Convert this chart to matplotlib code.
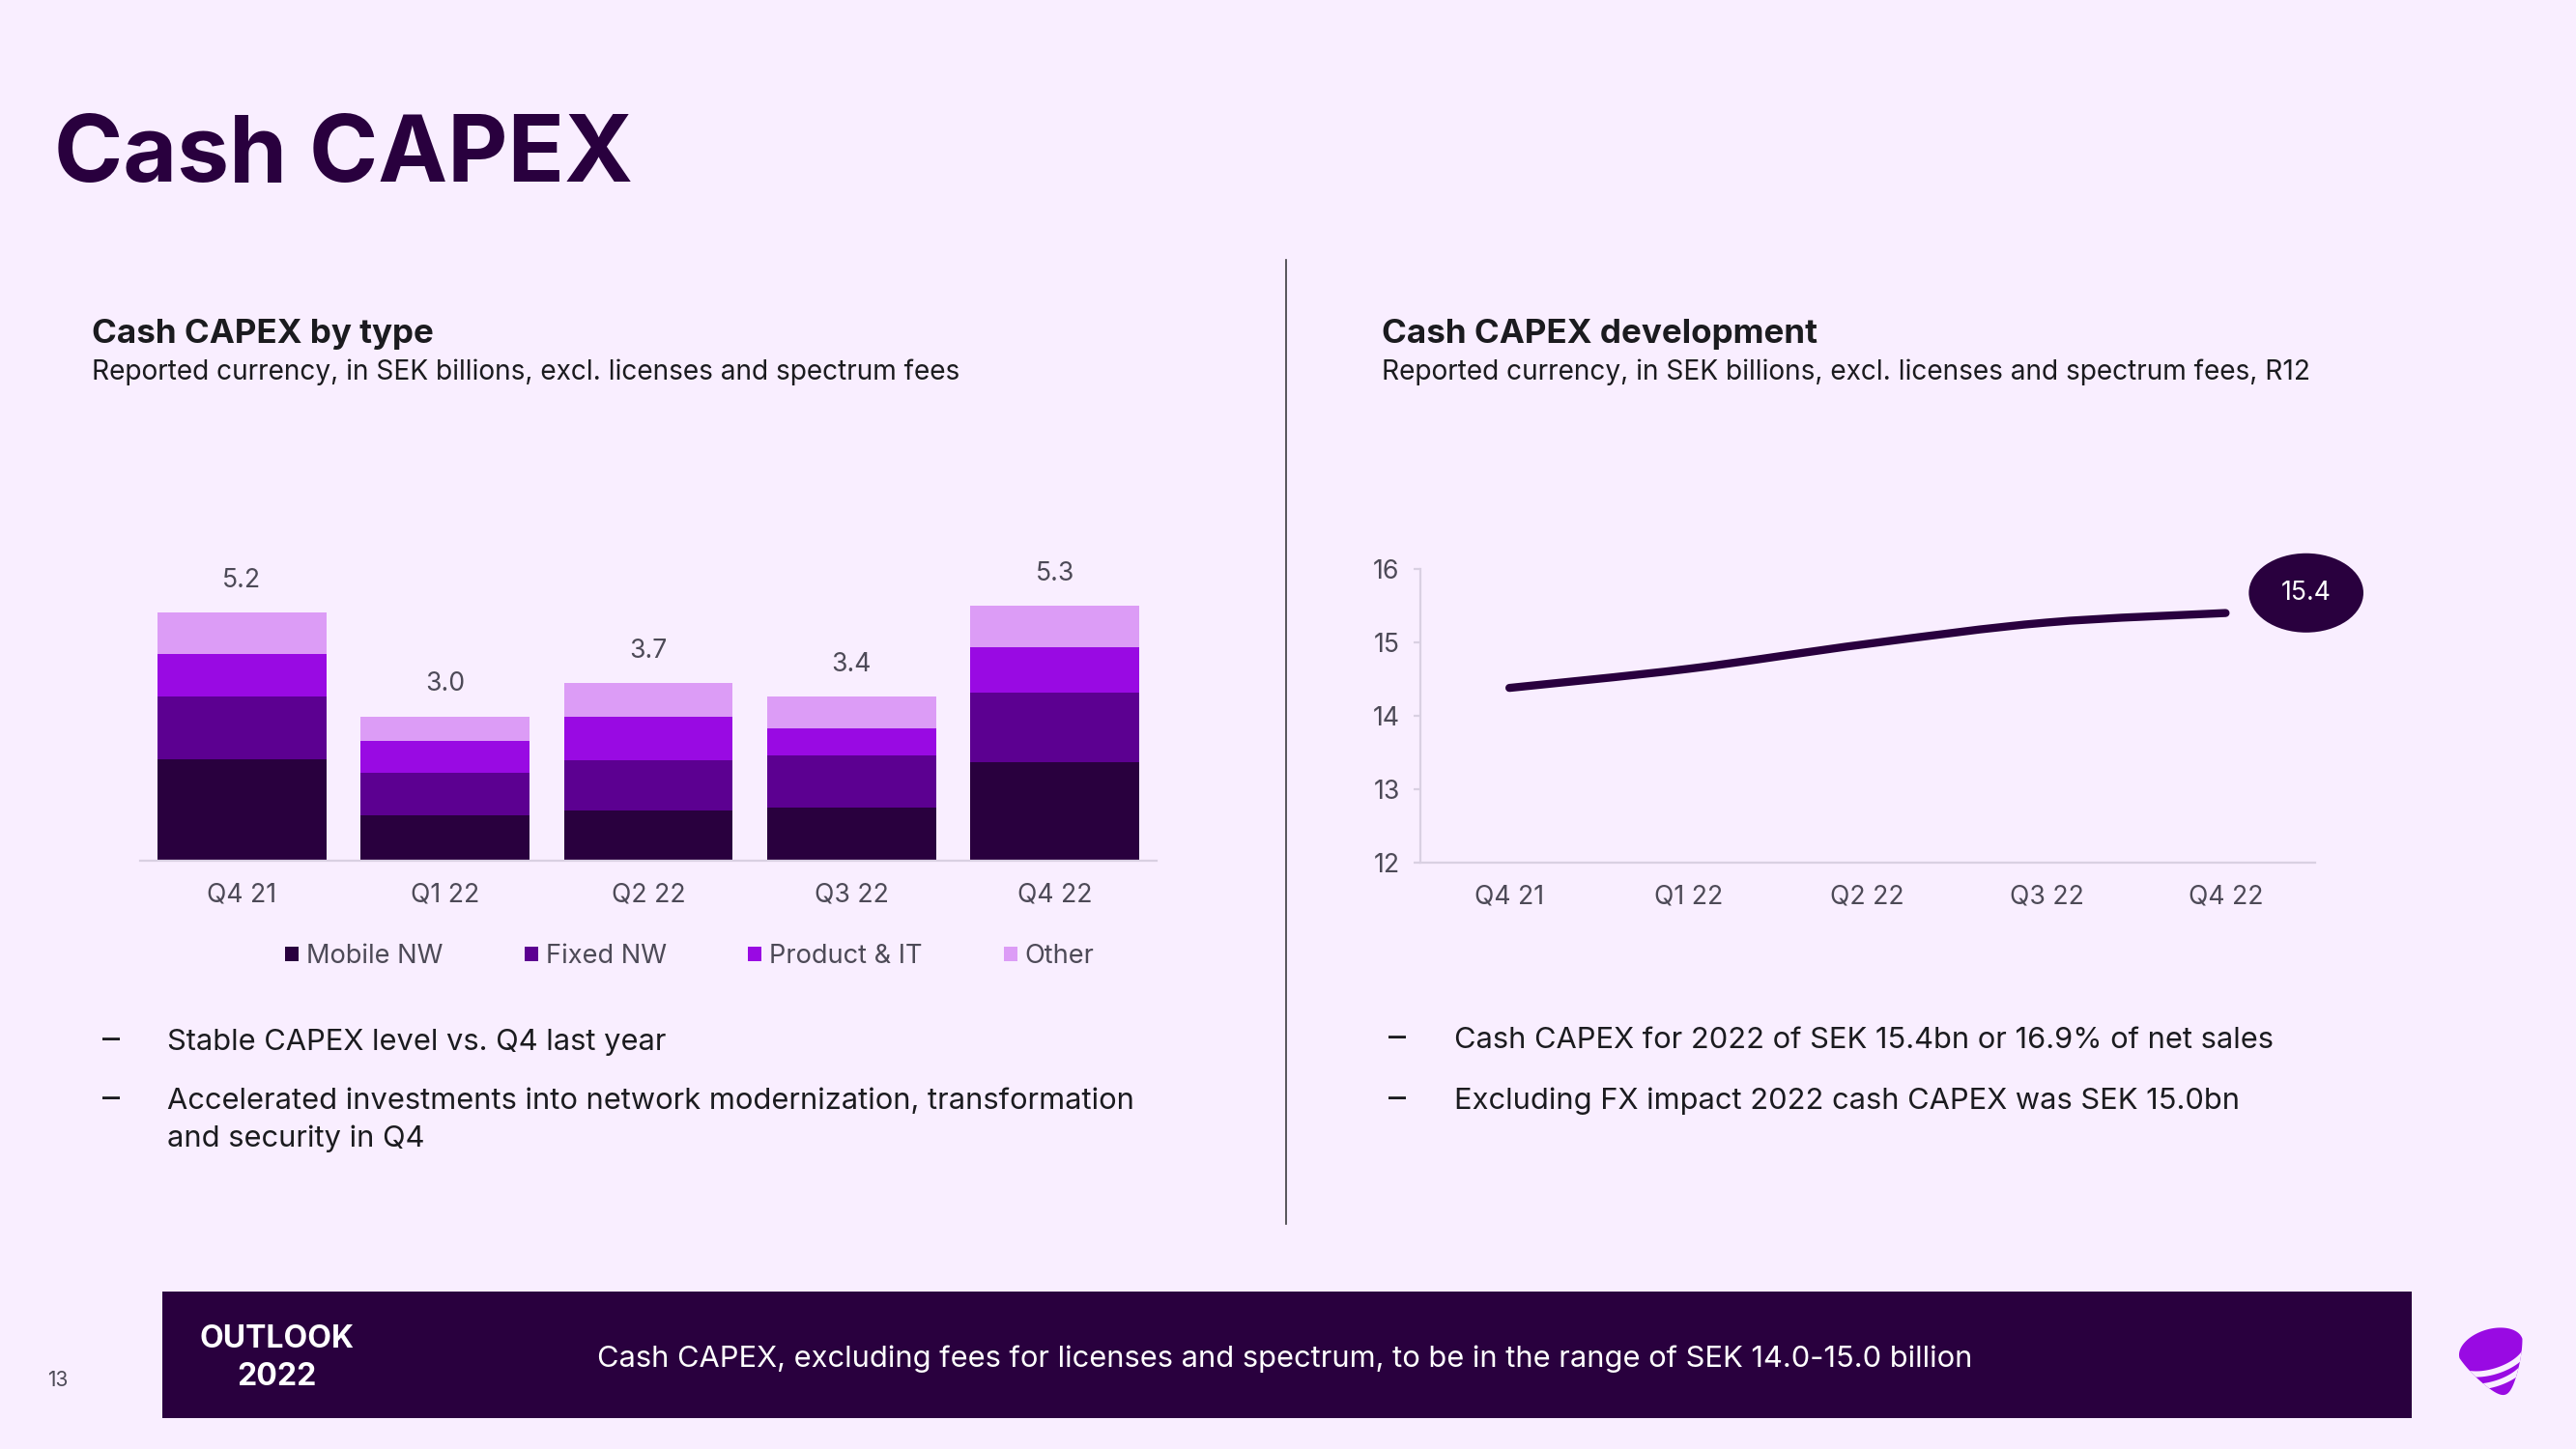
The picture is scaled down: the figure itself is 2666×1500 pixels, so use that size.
import numpy as np
import matplotlib
matplotlib.use("Agg")
import matplotlib.pyplot as plt
from matplotlib.patches import Patch, PathPatch, Rectangle, Polygon
from matplotlib.path import Path

# data
quarters = ["Q4 21", "Q1 22", "Q2 22", "Q3 22", "Q4 22"]
mobile_nw = [2.13, 0.96, 1.05, 1.11, 2.06]
fixed_nw = [1.32, 0.88, 1.05, 1.09, 1.46]
product_it = [0.89, 0.68, 0.93, 0.57, 0.95]
other = [0.86, 0.51, 0.69, 0.67, 0.88]
bar_totals = ["5.2", "3.0", "3.7", "3.4", "5.3"]
series_names = ["Mobile NW", "Fixed NW", "Product & IT", "Other"]

capex_r12 = [14.38, 14.64, 14.98, 15.27, 15.40]
last_label = "15.4"
line_yticks = [12, 13, 14, 15, 16]

BG = "#F9EEFF"
DEEP = "#29003E"
DARK = "#5C0091"
CORE = "#990AE3"
LIGHT = "#DC9CF6"
GREY = "#4d4a57"
AXIS = "#d9d0e2"
INK = "#1b1b1f"

plt.rcParams['font.family'] = ['Inter', 'DejaVu Sans']

W, H = 2666, 1500
fig = plt.figure(figsize=(W / 200, H / 200), dpi=200, facecolor=BG)


def rect(x0, y0, x1, y1):
    return [x0 / W, 1 - y1 / H, (x1 - x0) / W, (y1 - y0) / H]


# background canvas in pixel coords for the slide furniture
bg = fig.add_axes([0, 0, 1, 1], zorder=0)
bg.set_xlim(0, W)
bg.set_ylim(H, 0)
bg.axis("off")
bg.set_facecolor(BG)

bg.text(56, 188, "Cash CAPEX", fontsize=34.7, fontweight="bold", color=DEEP, va="baseline")

bg.text(95, 355, "Cash CAPEX by type", fontsize=12.6, fontweight="bold", color=INK, va="baseline")
bg.text(95, 393, "Reported currency, in SEK billions, excl. licenses and spectrum fees",
        fontsize=10.1, color=INK, va="baseline")
bg.text(1430, 355, "Cash CAPEX development", fontsize=12.6, fontweight="bold", color=INK, va="baseline")
bg.text(1430, 393, "Reported currency, in SEK billions, excl. licenses and spectrum fees, R12",
        fontsize=10.1, color=INK, va="baseline")

bg.plot([1331, 1331], [269, 1267], color="#3c3c40", lw=0.6)

bullets_left = [(1087, "Stable CAPEX level vs. Q4 last year", True),
                (1148, "Accelerated investments into network modernization, transformation", True),
                (1187, "and security in Q4", False)]
for yb, txt, dash in bullets_left:
    if dash:
        bg.text(106, yb, "\u2013", fontsize=13, color=INK, va="baseline")
    bg.text(173, yb, txt, fontsize=11.1, color=INK, va="baseline")

bullets_right = [(1085, "Cash CAPEX for 2022 of SEK 15.4bn or 16.9% of net sales"),
                 (1148, "Excluding FX impact 2022 cash CAPEX was SEK 15.0bn")]
for yb, txt in bullets_right:
    bg.text(1437, yb, "\u2013", fontsize=13, color=INK, va="baseline")
    bg.text(1505, yb, txt, fontsize=11.1, color=INK, va="baseline")

# outlook banner
bg.add_patch(Rectangle((168, 1337), 2496 - 168, 1468 - 1337, facecolor=DEEP, edgecolor="none"))
bg.text(286, 1395, "OUTLOOK", fontsize=11.5, fontweight="bold", color="white", ha="center", va="baseline")
bg.text(286, 1434, "2022", fontsize=11.5, fontweight="bold", color="white", ha="center", va="baseline")
bg.text(618, 1415, "Cash CAPEX, excluding fees for licenses and spectrum, to be in the range of SEK 14.0-15.0 billion",
        fontsize=11.1, color="white", va="baseline")
bg.text(60, 1435, "13", fontsize=7.5, color=GREY, va="baseline", ha="center")

# logo (rough pebble with two stripes)
a = -0.3
ca, sa = np.cos(a), np.sin(a)
cx, cy = 2578, 1396
t = np.linspace(np.pi, 2 * np.pi, 60)
ex, ey = 34 * np.cos(t), 20 * np.sin(t)
t2 = np.linspace(0, np.pi, 60)
lx = 34 * np.cos(t2) * (1 - 0.45 * np.sin(t2))
ly = 50 * np.sin(t2)
px = np.concatenate([ex, lx])
py = np.concatenate([ey, ly])
shape = np.column_stack([cx + px * ca - py * sa, cy + px * sa + py * ca])
pebble = Polygon(shape, closed=True, facecolor=CORE, edgecolor="none")
bg.add_patch(pebble)
for off in (6, 19):
    sx = 38 * np.cos(t2)
    sy = 18 * np.sin(t2)
    xs = cx + sx * ca - sy * sa
    ys = cy + off + sx * sa + sy * ca
    ln, = bg.plot(xs, ys, color=BG, lw=2.2, solid_capstyle="butt")
    ln.set_clip_path(pebble)

# stacked bar chart
ax1 = fig.add_axes(rect(145, 595, 1197, 891), zorder=1)
ax1.set_facecolor("none")
x = np.arange(len(quarters))
bottom = np.zeros(len(quarters))
for vals, col, name in zip([mobile_nw, fixed_nw, product_it, other],
                           [DEEP, DARK, CORE, LIGHT], series_names):
    ax1.bar(x, vals, 0.83, bottom=bottom, color=col, label=name, linewidth=0)
    bottom += np.array(vals)
for i, lbl in enumerate(bar_totals):
    ax1.annotate(lbl, (x[i], bottom[i]), xytext=(0, 12), textcoords="offset points",
                 ha="center", va="center", fontsize=9.6, color=GREY)
ax1.set_xlim(-0.5, len(quarters) - 0.5)
ax1.set_ylim(0, 6)
ax1.set_xticks(x)
ax1.set_xticklabels(quarters)
ax1.set_yticks([])
ax1.tick_params(axis="x", length=0, pad=8, labelsize=9.6, labelcolor=GREY)
for s in ["top", "right", "left"]:
    ax1.spines[s].set_visible(False)
ax1.spines["bottom"].set_color(AXIS)
ax1.spines["bottom"].set_linewidth(0.8)

handles = [Patch(facecolor=c, edgecolor="none", label=n)
           for c, n in zip([DEEP, DARK, CORE, LIGHT], series_names)]
fig.legend(handles=handles, ncol=4, loc="center", frameon=False,
           bbox_to_anchor=(714 / W, 1 - 990 / H), bbox_transform=fig.transFigure,
           handlelength=0.5, handleheight=0.5, handletextpad=0.3, columnspacing=3.1,
           fontsize=9.8, labelcolor=GREY)

# R12 line chart
ax2 = fig.add_axes(rect(1469.5, 589, 2396, 893), zorder=1)
ax2.set_facecolor("none")
xl = np.arange(len(quarters))
pts = np.column_stack([xl, capex_r12]).astype(float)
# smooth curve through the points (Catmull-Rom as cubic Bezier)
verts = [tuple(pts[0])]
codes = [Path.MOVETO]
ext = np.vstack([pts[0], pts, pts[-1]])
for i in range(len(pts) - 1):
    p0, p1, p2, p3 = ext[i], ext[i + 1], ext[i + 2], ext[i + 3]
    c1 = p1 + (p2 - p0) / 6
    c2 = p2 - (p3 - p1) / 6
    verts += [tuple(c1), tuple(c2), tuple(p2)]
    codes += [Path.CURVE4] * 3
ax2.add_patch(PathPatch(Path(verts, codes), facecolor="none", edgecolor=DEEP,
                        lw=3, capstyle="round"))
ax2.annotate(last_label, (xl[-1], capex_r12[-1]), xytext=(30, 7.5), textcoords="offset points",
             ha="center", va="center", fontsize=9.6, color="white", annotation_clip=False,
             bbox=dict(boxstyle="ellipse,pad=0.6", facecolor=DEEP, edgecolor="none"))
ax2.set_xlim(-0.5, len(quarters) - 0.5)
ax2.set_ylim(12, 16)
ax2.set_xticks(xl)
ax2.set_xticklabels(quarters)
ax2.set_yticks(line_yticks)
ax2.tick_params(axis="x", length=0, pad=8, labelsize=9.6, labelcolor=GREY)
ax2.tick_params(axis="y", length=2.5, width=0.8, color=AXIS, pad=5, labelsize=9.6, labelcolor=GREY)
for s in ["top", "right"]:
    ax2.spines[s].set_visible(False)
for s in ["left", "bottom"]:
    ax2.spines[s].set_color(AXIS)
    ax2.spines[s].set_linewidth(0.8)

fig.savefig("out.png", dpi=200, facecolor=BG)
